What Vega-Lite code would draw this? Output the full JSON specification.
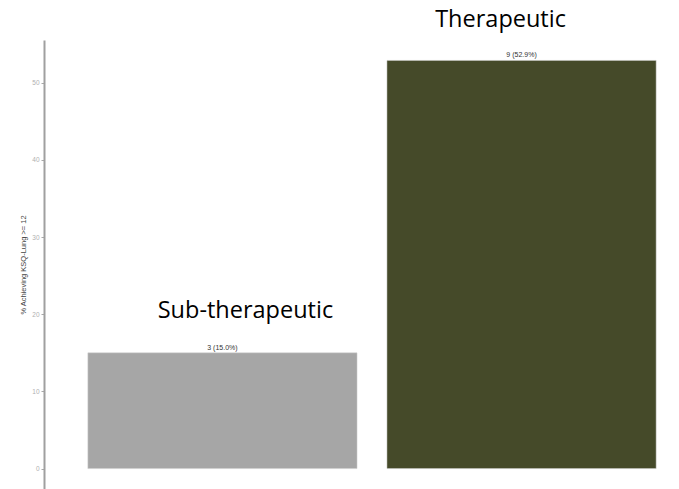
{
  "$schema": "https://vega.github.io/schema/vega-lite/v6.json",
  "autosize": "none",
  "padding": {"left": 44, "top": 40, "right": 0, "bottom": 0},
  "width": 635,
  "height": 449,
  "background": "white",
  "config": {"view": {"stroke": null}},
  "data": {"values": [
    {"group": "Sub-therapeutic", "n": 3, "pct": 15.0, "label": "3 (15.0%)"},
    {"group": "Therapeutic", "n": 9, "pct": 52.9, "label": "9 (52.9%)"}
  ]},
  "encoding": {
    "x": {"field": "group", "type": "nominal", "sort": null,
      "scale": {"range": [-1, 657], "paddingInner": 0.1, "paddingOuter": 0.15},
      "axis": null},
    "y": {"field": "pct", "type": "quantitative",
      "scale": {"domain": [-2.645, 55.545], "nice": false, "zero": false},
      "axis": {"values": [0, 10, 20, 30, 40, 50], "grid": false,
        "title": "% Achieving KSQ-Lung >= 12", "titleFont": "Liberation Sans", "titleFontSize": 7.5,
        "titleFontWeight": "normal", "titleColor": "#444444", "titleX": -17,
        "labelFont": "Liberation Sans", "labelFontSize": 6.5, "labelColor": "#b0b0b0", "labelPadding": 2,
        "tickColor": "#a8a8a8", "tickSize": 3, "domainColor": "#a0a0a0", "domainWidth": 2}}
  },
  "layer": [
    {"mark": {"type": "bar", "stroke": "#cfcfcf", "strokeWidth": 0.5},
      "encoding": {"color": {"field": "group", "type": "nominal",
        "scale": {"domain": ["Sub-therapeutic", "Therapeutic"], "range": ["#a6a6a6", "#454a29"]}, "legend": null}}},
    {"mark": {"type": "text", "baseline": "bottom", "dy": -2, "font": "Liberation Sans", "fontSize": 7, "color": "#333333"},
      "encoding": {"text": {"field": "label"}}},
    {"transform": [{"filter": "datum.group == 'Sub-therapeutic'"}],
      "mark": {"type": "text", "baseline": "middle", "dy": -42, "dx": 23, "font": "Open Sans", "fontSize": 23.5, "color": "#000000"},
      "encoding": {"text": {"field": "group"}}},
    {"transform": [{"filter": "datum.group == 'Therapeutic'"}],
      "mark": {"type": "text", "baseline": "middle", "dy": -40, "dx": -21, "font": "Open Sans", "fontSize": 23.5, "color": "#000000"},
      "encoding": {"text": {"field": "group"}}}
  ]
}
